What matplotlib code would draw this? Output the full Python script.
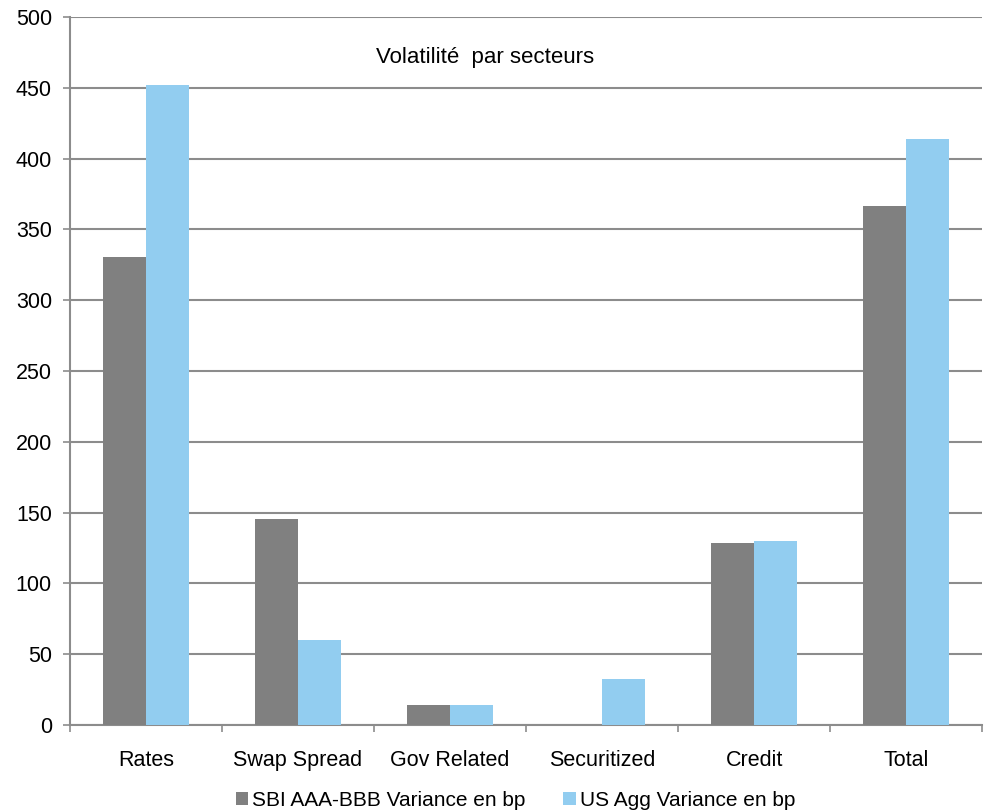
import matplotlib.pyplot as plt
import numpy as np

# --- Data ---
categories = ["Rates", "Swap Spread", "Gov Related", "Securitized", "Credit", "Total"]
sbi_values = [330.5, 145.5, 14, 0, 128.5, 366.5]
us_agg_values = [452, 60, 14, 32.5, 130, 414]
series_labels = ["SBI AAA-BBB Variance en bp", "US Agg Variance en bp"]
title = "Volatilité  par secteurs"

plt.rcParams['font.family'] = ['Liberation Sans Narrow', 'DejaVu Sans Condensed', 'Liberation Sans']

fig = plt.figure(figsize=(9.84, 8.11), dpi=100)
ax = fig.add_axes([0.0711, 0.106, 0.927, 0.873])

x = np.arange(len(categories))
w = 0.285
ax.bar(x - w / 2, sbi_values, width=w, color='#808080', label=series_labels[0], zorder=3)
ax.bar(x + w / 2, us_agg_values, width=w, color='#92CDF0', label=series_labels[1], zorder=3)

ax.set_xlim(-0.5, len(categories) - 0.5)
ax.set_ylim(0, 500)
ax.set_yticks(np.arange(0, 501, 50))
ax.grid(True, axis='y', color='#8c8c8c', linewidth=1.5, zorder=0)

# category labels centred, tick marks on boundaries
ax.set_xticks(x)
ax.set_xticklabels(categories)
ax.set_xticks(np.arange(-0.5, len(categories), 1.0), minor=True)
ax.tick_params(axis='x', which='major', length=0, labelsize=15.5, pad=18)
ax.tick_params(axis='x', which='minor', length=5, color='#8c8c8c', width=1.2)
ax.tick_params(axis='y', length=5, color='#8c8c8c', width=1.2, labelsize=15.5, pad=8)

for s in ['top', 'right']:
    ax.spines[s].set_visible(False)
for s in ['left', 'bottom']:
    ax.spines[s].set_color('#8c8c8c')
    ax.spines[s].set_linewidth(1.5)

ax.text(0.455, 0.943, title, transform=ax.transAxes, ha='center', va='center', fontsize=16)

fig.legend(loc='lower center', bbox_to_anchor=(0.524, -0.022), ncol=2, frameon=False,
           fontsize=15, handlelength=0.6, handleheight=0.6, handletextpad=0.2,
           columnspacing=1.8)

fig.savefig("out.png", dpi=100)
